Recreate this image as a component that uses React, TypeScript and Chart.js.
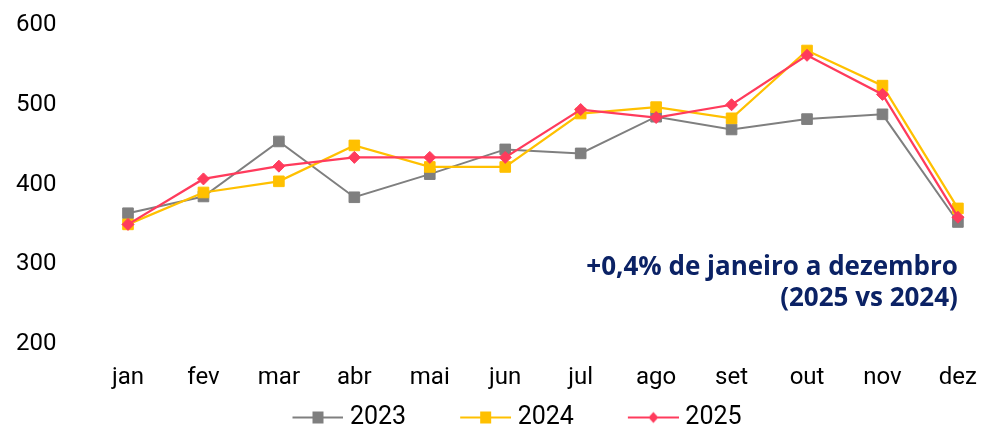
import React, { useEffect, useRef } from 'react';
import { Chart, registerables } from 'chart.js';

Chart.register(...registerables);

const months = ['jan', 'fev', 'mar', 'abr', 'mai', 'jun', 'jul', 'ago', 'set', 'out', 'nov', 'dez'];
const values2023 = [364, 385, 454, 384, 413, 444, 439, 485, 469, 482, 488, 353];
const values2024 = [350, 390, 404, 449, 422, 422, 489, 497, 483, 568, 524, 370];
const values2025 = [350, 407, 423, 434, 434, 434, 494, 484, 500, 562, 513, 359];
const seriesNames = ['2023', '2024', '2025'];
const seriesColors = ['#7F7F7F', '#FFC000', '#FF3B5C'];
const seriesMarkers = ['rect', 'rect', 'rectRot'];
const yMin = 200;
const yMax = 600;
const yStep = 100;
const noteLines = ['+0,4% de janeiro a dezembro', '(2025 vs 2024)'];

const FONT = 'Roboto';
const LEGEND_SHIFT = 5;

function makeLegendIcon(color: string, marker: string): HTMLCanvasElement {
  const w = 107;
  const h = 16;
  const c = document.createElement('canvas');
  c.width = w;
  c.height = h;
  const ctx = c.getContext('2d')!;
  const lineStart = 56;
  ctx.strokeStyle = color;
  ctx.lineWidth = 2;
  ctx.beginPath();
  ctx.moveTo(lineStart, h / 2);
  ctx.lineTo(w, h / 2);
  ctx.stroke();
  const cx = lineStart + (w - lineStart) / 2;
  const cy = h / 2;
  ctx.fillStyle = color;
  if (marker === 'rectRot') {
    ctx.beginPath();
    ctx.moveTo(cx, cy - 5.5);
    ctx.lineTo(cx + 5, cy);
    ctx.lineTo(cx, cy + 5.5);
    ctx.lineTo(cx - 5, cy);
    ctx.closePath();
    ctx.fill();
  } else {
    ctx.fillRect(cx - 5.5, cy - 6, 11, 12);
  }
  return c;
}

const notePlugin = {
  id: 'notePlugin',
  afterLayout(chart: any) {
    const lg = chart.legend;
    if (lg) {
      lg.left += LEGEND_SHIFT;
      lg.right += LEGEND_SHIFT;
    }
  },
  afterDraw(chart: any) {
    const { ctx, chartArea } = chart;
    ctx.save();
    ctx.font = `bold 26px "Open Sans"`;
    ctx.fillStyle = '#0B2265';
    ctx.textAlign = 'right';
    ctx.textBaseline = 'middle';
    ctx.fillText(noteLines[0], chartArea.right, 268);
    ctx.fillText(noteLines[1], chartArea.right, 299);
    ctx.restore();
  },
};

export default function App() {
  const canvasRef = useRef<HTMLCanvasElement | null>(null);

  useEffect(() => {
    document.body.style.margin = '0';
    const canvas = canvasRef.current;
    if (!canvas) return;
    const seriesValues = [values2023, values2024, values2025];
    const icons = seriesNames.map((_, i) => makeLegendIcon(seriesColors[i], seriesMarkers[i]));
    const chart = new Chart(canvas, {
      type: 'line',
      data: {
        labels: months,
        datasets: seriesNames.map((name, i) => ({
          label: name,
          data: seriesValues[i],
          borderColor: seriesColors[i],
          backgroundColor: seriesColors[i],
          borderWidth: i === 0 ? 2 : 2.25,
          pointStyle: seriesMarkers[i] as any,
          pointRadius: seriesMarkers[i] === 'rectRot' ? 6 : 7.5,
          pointBorderWidth: 1,
          pointBorderColor: seriesColors[i],
          pointBackgroundColor: seriesColors[i],
          tension: 0,
          order: 2 - i,
        })),
      },
      options: {
        animation: false,
        responsive: false,
        layout: { padding: { left: 16, right: 27, top: 25, bottom: -11 } },
        scales: {
          x: {
            offset: false,
            grid: { display: false, drawTicks: false },
            border: { display: false },
            ticks: {
              color: '#000',
              font: { family: FONT, size: 24, lineHeight: 2.2 },
              padding: 8,
              maxRotation: 0,
              autoSkip: false,
            },
            afterFit(scale: any) {
              scale.height = 57;
            },
          },
          y: {
            min: yMin,
            max: yMax,
            grid: { display: false, drawTicks: false },
            border: { display: false },
            ticks: {
              stepSize: yStep,
              color: '#000',
              font: { family: FONT, size: 24 },
              padding: 0,
              crossAlign: 'far',
            },
            afterFit(scale: any) {
              scale.width = 112;
            },
          },
        },
        plugins: {
          tooltip: { enabled: false },
          legend: {
            position: 'bottom',
            labels: {
              usePointStyle: true,
              pointStyleWidth: 95,
              padding: 4,
              color: '#000',
              font: { family: FONT, size: 25 },
              generateLabels: () =>
                seriesNames.map((name, i) => ({
                  text: name,
                  pointStyle: icons[i],
                  fillStyle: seriesColors[i],
                  strokeStyle: seriesColors[i],
                  lineWidth: 0,
                  hidden: false,
                  datasetIndex: i,
                  fontColor: '#000',
                })),
            },
          },
        },
      },
      plugins: [notePlugin],
    });
    return () => chart.destroy();
  }, []);

  return (
    <div style={{ width: 985, height: 429 }}>
      <canvas ref={canvasRef} width={985} height={429} />
    </div>
  );
}
